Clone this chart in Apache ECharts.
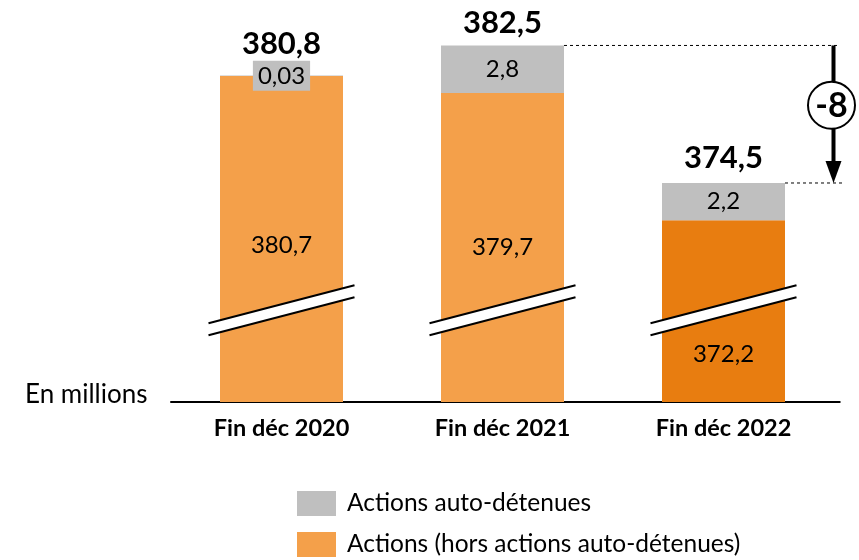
<!DOCTYPE html>
<html>
<head>
<meta charset="utf-8">
<script src="https://cdn.jsdelivr.net/npm/echarts@6/dist/echarts.min.js"></script>
<style>
  html, body { margin: 0; padding: 0; background: #fff; }
  #chart { width: 859px; height: 560px; }
</style>
</head>
<body>
<div id="chart"></div>
<script>
'use strict';

const CATEGORIES = ['Fin déc 2020', 'Fin déc 2021', 'Fin déc 2022'];
const ACTIONS_HORS = [380.7, 379.7, 372.2];
const AUTO_DETENUES = [0.03, 2.8, 2.2];
const TOTALS = [380.8, 382.5, 374.5];
const SERIES_NAMES = ['Actions (hors actions auto-détenues)', 'Actions auto-détenues'];

const FONT = 'Lato';
const ORANGE = '#F4A04A';
const ORANGE_DARK = '#E87D10';
const GREY = '#BFBFBF';
const BAR_WIDTH = 123;
const Y_MIN = 361.5;
const BREAK_VALUE = 366.9;   // where the decorative axis break is drawn

function fmt(v) {
  return String(v).replace('.', ',');
}

const chart = echarts.init(document.getElementById('chart'));

// label tweaks per bar (text placement in the original is hand-made)
const horsOffsets = [[0, 6], [0, 0], [0, 43]];
const totalOffsets = [[0, -30], [0, -22], [0, -23]];

let horsData = ACTIONS_HORS.map((v, i) => ({
  value: v,
  itemStyle: { color: i === 2 ? ORANGE_DARK : ORANGE },
  label: { offset: horsOffsets[i] }
}));

let autoData = AUTO_DETENUES.map((v, i) => {
  let item = { value: v };
  if (i === 0) {
    item.label = { backgroundColor: GREY, padding: [4, 5, 2, 5] };
  }
  return item;
});

let totalData = TOTALS.map((v, i) => ({
  value: v,
  label: { offset: totalOffsets[i] }
}));

chart.setOption({
  animation: false,
  textStyle: { fontFamily: FONT },
  grid: { left: 171, right: 25, top: 20, bottom: 158 },
  legend: {
    orient: 'vertical',
    left: 297,
    top: 491,
    height: 90,
    padding: 0,
    itemWidth: 39,
    itemHeight: 25,
    itemGap: 16,
    icon: 'rect',
    data: [SERIES_NAMES[1], SERIES_NAMES[0]],
    textStyle: { fontFamily: FONT, fontSize: 24.5, color: '#000', padding: [0, 0, 0, 6] }
  },
  xAxis: {
    type: 'category',
    data: CATEGORIES,
    axisTick: { show: false },
    axisLine: { lineStyle: { color: '#000', width: 2 } },
    axisLabel: { fontFamily: FONT, fontSize: 23.5, fontWeight: 'bold', color: '#000', margin: 14 }
  },
  yAxis: {
    type: 'value',
    min: Y_MIN,
    max: 384,
    show: false,
    splitLine: { show: false }
  },
  series: [
    {
      name: SERIES_NAMES[0],
      type: 'bar',
      stack: 'total',
      barWidth: BAR_WIDTH,
      itemStyle: { color: ORANGE },
      label: {
        show: true,
        position: 'inside',
        fontFamily: FONT,
        fontSize: 24,
        color: '#000',
        formatter: p => fmt(p.value)
      },
      data: horsData
    },
    {
      name: SERIES_NAMES[1],
      type: 'bar',
      stack: 'total',
      barWidth: BAR_WIDTH,
      itemStyle: { color: GREY },
      label: {
        show: true,
        position: 'inside',
        fontFamily: FONT,
        fontSize: 24,
        color: '#000',
        formatter: p => fmt(p.value)
      },
      data: autoData
    },
    {
      name: 'total',
      type: 'scatter',
      symbolSize: 0,
      silent: true,
      itemStyle: { opacity: 1 },
      label: {
        show: true,
        position: 'inside',
        fontFamily: FONT,
        fontSize: 31,
        fontWeight: 'bold',
        color: '#000',
        formatter: p => fmt(p.value)
      },
      data: totalData
    }
  ]
});

// decorations: axis breaks on bars, variation arrow, unit text
function buildGraphics() {
  let g = [];
  CATEGORIES.forEach((c, i) => {
    let p = chart.convertToPixel({ xAxisIndex: 0, yAxisIndex: 0 }, [i, BREAK_VALUE]);
    let hx = 73, rise = 19, half = 6;
    let a1 = [p[0] - hx, p[1] + rise - half], a2 = [p[0] + hx, p[1] - rise - half];
    let b1 = [p[0] - hx, p[1] + rise + half], b2 = [p[0] + hx, p[1] - rise + half];
    g.push({ type: 'polygon', shape: { points: [a1, a2, b2, b1] }, style: { fill: '#fff' }, z: 10 });
    g.push({ type: 'line', shape: { x1: a1[0], y1: a1[1], x2: a2[0], y2: a2[1] }, style: { stroke: '#000', lineWidth: 2 }, z: 11 });
    g.push({ type: 'line', shape: { x1: b1[0], y1: b1[1], x2: b2[0], y2: b2[1] }, style: { stroke: '#000', lineWidth: 2 }, z: 11 });
  });

  let top2 = chart.convertToPixel({ xAxisIndex: 0, yAxisIndex: 0 }, [1, ACTIONS_HORS[1] + AUTO_DETENUES[1]]);
  let top3 = chart.convertToPixel({ xAxisIndex: 0, yAxisIndex: 0 }, [2, ACTIONS_HORS[2] + AUTO_DETENUES[2]]);
  let ax = top3[0] + 110;
  let dash = { stroke: '#000', lineWidth: 1, lineDash: [3, 3] };
  g.push({ type: 'line', shape: { x1: top2[0] + BAR_WIDTH / 2, y1: top2[1], x2: ax + 6, y2: top2[1] }, style: dash });
  g.push({ type: 'line', shape: { x1: top3[0] + BAR_WIDTH / 2, y1: top3[1], x2: ax + 9, y2: top3[1] }, style: dash });

  let cy = (top2[1] + top3[1]) / 2 - 9;
  let r = 23.5;
  g.push({ type: 'line', shape: { x1: ax, y1: top2[1], x2: ax, y2: top3[1] - 20 }, style: { stroke: '#000', lineWidth: 4 } });
  g.push({ type: 'polygon', shape: { points: [[ax - 8, top3[1] - 22], [ax + 8, top3[1] - 22], [ax, top3[1]]] }, style: { fill: '#000' } });
  g.push({ type: 'circle', shape: { cx: ax - 2, cy: cy, r: r }, style: { fill: '#fff', stroke: '#000', lineWidth: 2 }, z: 5 });
  let delta = Math.round(TOTALS[2] - TOTALS[1]);
  g.push({
    type: 'text', x: ax - 2, y: cy + 1, z: 6,
    style: { text: String(delta), fontFamily: FONT, fontSize: 34, fontWeight: 'bold', fill: '#000', align: 'center', verticalAlign: 'middle' }
  });

  // baseline runs a bit past the last bar band
  let base = chart.convertToPixel({ xAxisIndex: 0, yAxisIndex: 0 }, [2, Y_MIN]);
  g.push({ type: 'line', shape: { x1: base[0] + 110, y1: base[1], x2: base[0] + 117, y2: base[1] }, style: { stroke: '#000', lineWidth: 2 } });
  g.push({
    type: 'text', x: 25, y: base[1] - 7,
    style: { text: 'En millions', fontFamily: FONT, fontSize: 26, fill: '#000', verticalAlign: 'middle' }
  });
  return g;
}

chart.setOption({ graphic: buildGraphics() });
</script>
</body>
</html>
